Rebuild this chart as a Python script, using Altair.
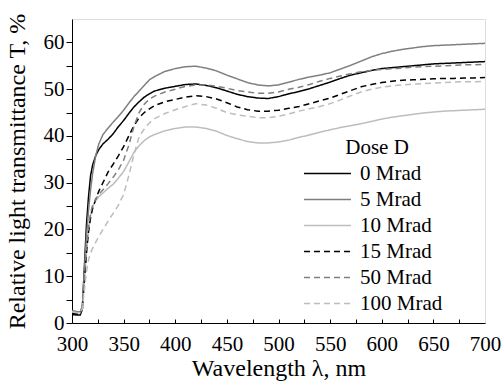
import altair as alt
import pandas as pd

wavelength = [300, 305, 308, 310, 312, 314, 316, 318, 320, 323,
              326, 330, 335, 340, 345, 350, 355, 360, 365, 370,
              375, 380, 390, 400, 410, 420, 430, 440, 450, 460,
              470, 480, 490, 500, 510, 520, 530, 540, 550, 560,
              570, 580, 590, 600, 610, 620, 630, 640, 650, 660,
              670, 680, 690, 700]

t_0 = [1.8, 1.7, 1.7, 3.0, 12.0, 21.0, 27.0, 31.5, 33.8, 35.8,
       37.1, 38.3, 39.3, 40.5, 42.0, 43.3, 44.8, 46.2, 47.3, 48.3,
       49.0, 49.6, 50.2, 50.6, 51.0, 51.1, 50.8, 50.3, 49.6, 48.9,
       48.4, 48.1, 48.0, 48.4, 49.0, 49.5, 50.1, 50.8, 51.5, 52.3,
       53.0, 53.5, 54.0, 54.4, 54.6, 54.8, 55.0, 55.2, 55.4, 55.5,
       55.6, 55.7, 55.8, 55.9]
t_5 = [2.6, 2.4, 2.4, 3.5, 11.0, 18.5, 24.0, 28.5, 32.0, 35.8,
       38.3, 40.3, 41.7, 43.0, 44.2, 45.5, 47.0, 48.4, 49.6, 50.8,
       52.0, 52.7, 53.8, 54.4, 54.8, 54.9, 54.5, 53.9, 53.0, 52.2,
       51.4, 50.9, 50.7, 50.9, 51.5, 52.1, 52.6, 53.0, 53.5, 54.3,
       55.1, 56.0, 56.9, 57.6, 58.1, 58.5, 58.8, 59.1, 59.3, 59.4,
       59.5, 59.6, 59.7, 59.8]
t_10 = [2.4, 2.2, 2.2, 3.0, 9.0, 15.0, 20.0, 23.0, 24.8, 26.2,
        27.0, 27.8, 28.8, 29.7, 31.0, 32.4, 34.4, 36.5, 37.9, 39.0,
        39.8, 40.3, 41.1, 41.6, 41.9, 41.9, 41.6, 41.0, 40.1, 39.4,
        38.8, 38.5, 38.5, 38.7, 39.1, 39.7, 40.2, 40.8, 41.3, 41.8,
        42.2, 42.6, 43.1, 43.6, 44.0, 44.3, 44.6, 44.9, 45.1, 45.3,
        45.4, 45.5, 45.6, 45.7]
t_15 = [2.0, 1.9, 1.9, 3.0, 9.0, 15.0, 19.5, 22.5, 24.5, 26.5,
        28.2, 30.0, 32.3, 34.0, 35.8, 37.7, 40.0, 42.2, 43.9, 45.0,
        45.8, 46.5, 47.3, 47.8, 48.3, 48.6, 48.4, 47.9, 47.1, 46.2,
        45.6, 45.3, 45.3, 45.5, 45.9, 46.3, 46.9, 47.5, 48.1, 48.9,
        49.7, 50.5, 51.0, 51.4, 51.7, 51.9, 52.0, 52.1, 52.2, 52.3,
        52.3, 52.4, 52.4, 52.5]
t_50 = [2.6, 2.4, 2.4, 3.5, 10.0, 16.0, 20.5, 23.5, 25.2, 26.5,
        27.5, 28.5, 29.8, 31.2, 32.8, 34.8, 38.0, 42.0, 45.0, 46.8,
        47.9, 48.5, 49.4, 50.0, 50.6, 50.9, 50.9, 50.6, 50.2, 49.7,
        49.4, 49.1, 49.1, 49.4, 50.0, 50.4, 51.0, 51.7, 52.3, 52.8,
        53.3, 53.7, 54.0, 54.2, 54.4, 54.5, 54.7, 54.8, 54.9, 55.0,
        55.1, 55.2, 55.2, 55.3]
t_100 = [2.4, 2.2, 2.2, 3.0, 7.0, 11.0, 13.5, 15.0, 16.0, 17.3,
         18.5, 20.0, 21.8, 23.5, 25.2, 27.5, 31.5, 36.0, 39.8, 41.5,
         42.8, 43.7, 44.8, 45.6, 46.3, 46.9, 46.6, 45.9, 45.0, 44.5,
         44.2, 43.9, 43.9, 44.2, 44.7, 45.3, 45.8, 46.3, 46.9, 47.7,
         48.6, 49.4, 50.0, 50.4, 50.7, 50.9, 51.1, 51.2, 51.3, 51.4,
         51.5, 51.6, 51.6, 51.7]

doses = ["0 Mrad", "5 Mrad", "10 Mrad", "15 Mrad", "50 Mrad", "100 Mrad"]
series = [t_0, t_5, t_10, t_15, t_50, t_100]
colors = ["#000000", "#7f7f7f", "#bdbdbd", "#000000", "#7f7f7f", "#bdbdbd"]
dashes = [[1, 0], [1, 0], [1, 0], [6, 4], [6, 4], [6, 4]]

x_label_values = [300, 350, 400, 450, 500, 550, 600, 650, 700]
x_tick_values = [325, 350, 375, 400, 425, 450, 475, 500, 525, 550, 575, 600, 625, 650, 675]
y_tick_values = [0, 5, 10, 15, 20, 25, 30, 35, 40, 45, 50, 55, 60]

rows = []
for d, vals in zip(doses, series):
    for w, t in zip(wavelength, vals):
        rows.append({"wavelength": w, "T": t, "dose": d})
df = pd.DataFrame(rows)

W, H = 413, 304
FONT = "Liberation Serif, Times New Roman, serif"

xscale = alt.Scale(domain=[300, 700], nice=False, zero=False)
yscale = alt.Scale(domain=[0, 65], nice=False)

y_axis = alt.Axis(values=y_tick_values,
                  labelExpr="datum.value % 10 === 0 ? datum.label : ''",
                  tickSize=6, labelPadding=2, grid=False, labelFlush=False,
                  domainColor="black", tickColor="black", labelColor="black",
                  labelFont=FONT, labelFontSize=21,
                  title="Relative light transmittance T, %",
                  titleFont=FONT, titleFontSize=24, titleFontWeight="normal",
                  titleColor="black", titlePadding=14)

x_axis = alt.Axis(values=x_label_values, ticks=False, labelPadding=10,
                  grid=False, labelFlush=False, domainColor="black",
                  labelColor="black", labelFont=FONT, labelFontSize=21,
                  title="Wavelength λ, nm", titleFont=FONT, titleFontSize=24,
                  titleFontWeight="normal", titleColor="black", titlePadding=2)

x_axis_ticks = alt.Axis(orient="top", offset=-H, values=x_tick_values,
                        labels=False, domain=False, tickSize=4,
                        tickColor="black", grid=False, title=None)

lines = alt.Chart(df).mark_line(strokeWidth=1.5, clip=True).encode(
    x=alt.X("wavelength:Q", scale=xscale, axis=x_axis),
    y=alt.Y("T:Q", scale=yscale, axis=y_axis),
    color=alt.Color("dose:N", sort=doses,
                    scale=alt.Scale(domain=doses, range=colors),
                    legend=alt.Legend(orient="none", legendX=240, legendY=118,
                                      title="Dose D", titleFont=FONT,
                                      titleFontSize=21, titleFontWeight="normal",
                                      titleColor="black", titleAnchor="middle",
                                      titlePadding=0,
                                      labelFont=FONT, labelFontSize=21,
                                      labelColor="black",
                                      symbolType="M-1.62,0H1.62", symbolSize=841,
                                      symbolStrokeWidth=1.5, rowPadding=0,
                                      labelOffset=17)),
    strokeDash=alt.StrokeDash("dose:N", sort=doses,
                              scale=alt.Scale(domain=doses, range=dashes),
                              legend=None),
    detail="dose:N",
)

ticks_layer = alt.Chart(df).mark_line(strokeOpacity=0).encode(
    x=alt.X("wavelength:Q", scale=xscale, axis=x_axis_ticks),
    y=alt.Y("T:Q", scale=yscale, axis=y_axis),
    detail="dose:N",
)

chart = alt.layer(lines, ticks_layer).resolve_axis(x="independent").properties(
    width=W, height=H,
    autosize=alt.AutoSizeParams(type="none"),
    padding={"left": 72, "top": 19, "right": 16, "bottom": 60},
).configure_view(stroke=None).configure(background="white")

chart.save("out.html", embed_options={"renderer": "svg", "actions": False})
